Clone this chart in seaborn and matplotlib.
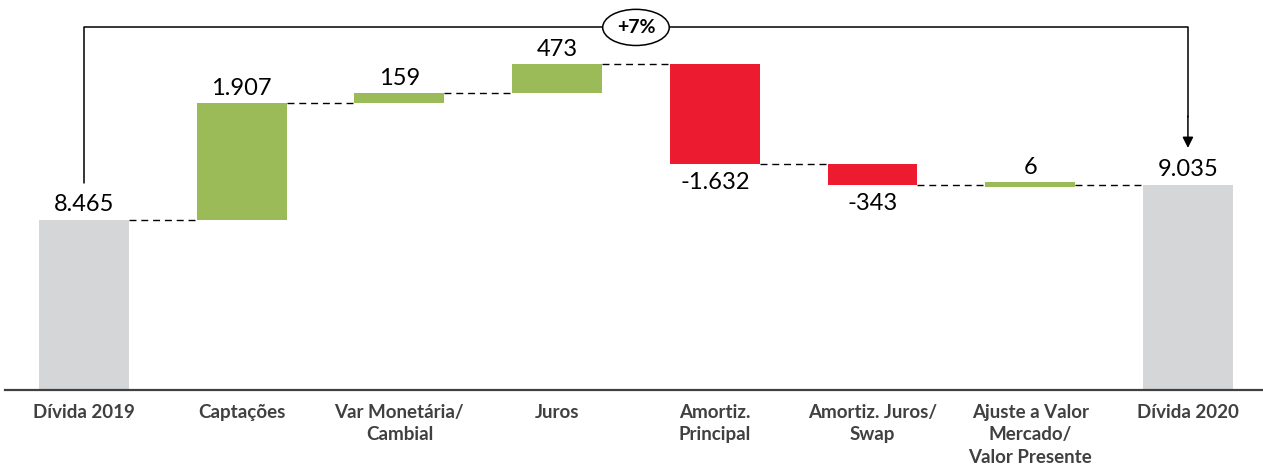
import numpy as np
import pandas as pd
import matplotlib
matplotlib.use("Agg")
import matplotlib.pyplot as plt
import seaborn as sns

# data
categories = ["Dívida 2019", "Captações", "Var Monetária/\nCambial", "Juros",
              "Amortiz.\nPrincipal", "Amortiz. Juros/\nSwap",
              "Ajuste a Valor\nMercado/\nValor Presente", "Dívida 2020"]
values = [8465, 1907, 159, 473, -1632, -343, 6, 9035]
kinds = ["total", "delta", "delta", "delta", "delta", "delta", "delta", "total"]
change_label = "+7%"

GREY, GREEN, RED = "#D5D6D8", "#9BBB59", "#ED1B2F"
TXT = "#404040"

# waterfall geometry
bottoms, heights, colors, levels = [], [], [], []
running = 0
for v, k in zip(values, kinds):
    if k == "total":
        bottoms.append(0)
        heights.append(v)
        colors.append(GREY)
        running = v
    else:
        lo = running if v >= 0 else running + v
        h = max(abs(v), 80)  # keep tiny bars visible
        if v >= 0 and abs(v) < 80:
            lo = running - (h - abs(v)) / 2
        bottoms.append(lo)
        heights.append(h)
        colors.append(GREEN if v >= 0 else RED)
        running += v
    levels.append(running)

df = pd.DataFrame({"cat": categories, "height": heights})

sns.set_theme(style="white")
plt.rcParams["font.family"] = ["Lato", "DejaVu Sans"]

fig = plt.figure(figsize=(12.63, 4.74), dpi=100)
ax = fig.add_axes([5 / 1263, 84 / 474, 1 - 5 / 1263, 390 / 474])

sns.barplot(data=df, x="cat", y="height", order=categories, bottom=bottoms,
            width=0.57, color=GREY, ax=ax, errorbar=None, saturation=1)
for p, c in zip(ax.patches, colors):
    p.set_facecolor(c)
    p.set_edgecolor("none")

ax.set_xlim(-0.501, 7.476)
ax.set_ylim(5679, 12052)

# dashed connectors
w = 0.57
for i in range(len(values) - 1):
    ax.plot([i + w / 2, i + 1 - w / 2], [levels[i], levels[i]],
            color="black", lw=1, ls=(0, (5, 3.5)), zorder=1)

# value labels
for i, (v, k) in enumerate(zip(values, kinds)):
    txt = f"{v:,}".replace(",", ".")
    if v >= 0:
        y = bottoms[i] + heights[i]
        ax.annotate(txt, (i, y), xytext=(0, 3), textcoords="offset points",
                    ha="center", va="bottom", fontsize=17, color="black")
    else:
        y = bottoms[i]
        ax.annotate(txt, (i, y), xytext=(0, -6), textcoords="offset points",
                    ha="center", va="top", fontsize=17, color="black")

# overall change bracket
y0 = values[0] + 600
ytop = max(levels) + 600
y1 = values[-1] + 600
ax.plot([0, 0, 7, 7], [y0, ytop, ytop, y1 + 500], color="black", lw=1.1, zorder=3)
ax.annotate("", xy=(7, y1), xytext=(7, y1 + 520),
            arrowprops=dict(arrowstyle="-|>", color="black", lw=1.1,
                            mutation_scale=16, shrinkA=0, shrinkB=0))
ax.text(3.5, ytop, change_label, ha="center", va="center", fontsize=14,
        fontweight="bold", color="black", zorder=4,
        bbox=dict(boxstyle="ellipse,pad=0.22", fc="white", ec="black", lw=1.1))

# axes styling
for s in ["top", "left", "right"]:
    ax.spines[s].set_visible(False)
ax.spines["bottom"].set_color(TXT)
ax.spines["bottom"].set_linewidth(1.6)
ax.set_yticks([])
ax.set_xlabel("")
ax.set_ylabel("")
ax.tick_params(axis="x", length=0, pad=10)
ax.set_xticks(range(len(categories)))
ax.set_xticklabels(categories, fontsize=13.5, fontweight="bold", color=TXT,
                   va="top", linespacing=1.4)

fig.savefig("out.png", dpi=100)
